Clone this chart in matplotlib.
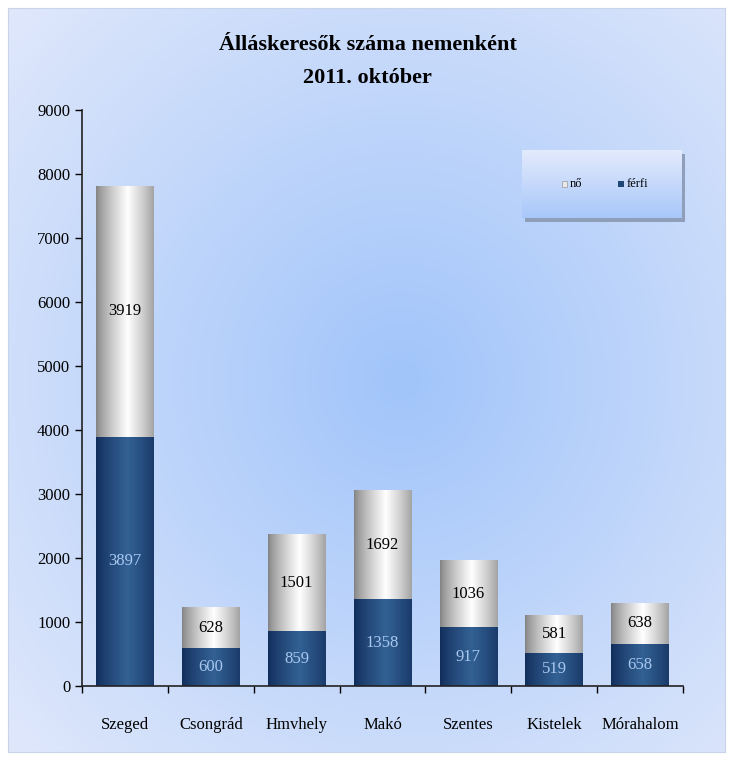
import numpy as np
import matplotlib.pyplot as plt
from matplotlib.patches import Rectangle

plt.rcParams['font.family'] = ['Liberation Serif', 'DejaVu Serif']

varosok = ['Szeged', 'Csongrád', 'Hmvhely', 'Makó', 'Szentes', 'Kistelek', 'Mórahalom']
ferfi = [3897, 600, 859, 1358, 917, 519, 658]
no = [3919, 628, 1501, 1692, 1036, 581, 638]

W, H = 735, 765
fig = plt.figure(figsize=(W / 100, H / 100), dpi=100)
fig.patch.set_facecolor('white')

# background panel with radial gradient
bg = fig.add_axes([8 / W, 1 - 752 / H, 717 / W, 744 / H])
yy, xx = np.mgrid[0:1:300j, 0:1:300j]
r = np.sqrt(((xx - 0.55) / 0.75) ** 2 + ((yy - 0.5) / 0.75) ** 2)
r = np.clip(r, 0, 1)
c_in = np.array([0.63, 0.77, 0.98])
c_out = np.array([0.88, 0.91, 0.985])
img = c_in[None, None, :] * (1 - r[..., None]) + c_out[None, None, :] * r[..., None]
bg.imshow(img, extent=(0, 1, 0, 1), aspect='auto', origin='lower')
bg.set_xticks([])
bg.set_yticks([])
for s in bg.spines.values():
    s.set_color('#c8d4ea')

ax = fig.add_axes([82 / W, 1 - 686 / H, 601 / W, 576 / H])
ax.set_facecolor('none')

x = np.arange(len(varosok))
bw = 0.67


def grad_bar(a, x0, x1, y0, y1, edge, mid):
    t = np.linspace(0, 1, 64)
    w = 1 - np.abs(t - 0.55) / 0.55
    w = np.clip(w, 0, 1) ** 0.8
    edge = np.array(edge)
    mid = np.array(mid)
    row = edge[None, :] * (1 - w[:, None]) + mid[None, :] * w[:, None]
    a.imshow(row[None, :, :], extent=(x0, x1, y0, y1), aspect='auto', zorder=2)


b1 = ax.bar(x, ferfi, bw, color='none', label='férfi')
b2 = ax.bar(x, no, bw, bottom=ferfi, color='none', label='nő')
for i in range(len(x)):
    x0, x1 = x[i] - bw / 2, x[i] + bw / 2
    grad_bar(ax, x0, x1, 0, ferfi[i], (0.07, 0.18, 0.36), (0.20, 0.38, 0.58))
    grad_bar(ax, x0, x1, ferfi[i], ferfi[i] + no[i], (0.52, 0.52, 0.52), (1.0, 1.0, 1.0))
    ax.text(x[i], ferfi[i] / 2, str(ferfi[i]), ha='center', va='center',
            fontsize=12, color='#a9c8f0', zorder=3)
    ax.text(x[i], ferfi[i] + no[i] / 2, str(no[i]), ha='center', va='center',
            fontsize=12, color='black', zorder=3)

ax.set_xlim(-0.5, len(x) - 0.5)
ax.set_ylim(0, 9000)
ax.set_yticks(range(0, 9001, 1000))
ax.set_xticks(x)
ax.set_xticklabels(varosok, fontsize=12)
ax.set_xticks(np.arange(-0.5, len(x), 1), minor=True)
ax.tick_params(axis='x', which='major', length=0, pad=22)
ax.tick_params(axis='x', which='minor', length=5, width=1, direction='out')
ax.tick_params(axis='y', labelsize=12, length=5, width=1, direction='out')
for s in ['top', 'right']:
    ax.spines[s].set_visible(False)
for s in ['left', 'bottom']:
    ax.spines[s].set_color('#222222')
    ax.spines[s].set_linewidth(1.2)

fig.text(0.5, 1 - 45 / H, 'Álláskeresők száma nemenként', ha='center', va='center',
         fontsize=16, fontweight='bold')
fig.text(0.5, 1 - 78 / H, '2011. október', ha='center', va='center',
         fontsize=16, fontweight='bold')

# legend box
sh = fig.add_axes([525 / W, 1 - 222 / H, 160 / W, 68 / H])
sh.set_facecolor('#8f9fba')
sh.set_xticks([])
sh.set_yticks([])
for s in sh.spines.values():
    s.set_visible(False)
lg = fig.add_axes([522 / W, 1 - 218 / H, 160 / W, 68 / H])
gy = np.linspace(0, 1, 100)
top = np.array([0.89, 0.92, 0.99])
bot = np.array([0.66, 0.78, 0.98])
gimg = top[None, :] * gy[:, None] + bot[None, :] * (1 - gy[:, None])
lg.imshow(gimg[:, None, :], extent=(0, 1, 0, 1), aspect='auto', origin='lower')
lg.set_xlim(0, 1)
lg.set_ylim(0, 1)
lg.set_xticks([])
lg.set_yticks([])
for s in lg.spines.values():
    s.set_visible(False)
lg.add_patch(Rectangle((0.25, 0.45), 0.03, 0.1, facecolor='#e8e8e8', edgecolor='#999999', lw=0.5))
lg.text(0.30, 0.5, 'nő', va='center', fontsize=9)
lg.add_patch(Rectangle((0.60, 0.45), 0.035, 0.1, facecolor='#1f4675', edgecolor='none'))
lg.text(0.655, 0.5, 'férfi', va='center', fontsize=9)

plt.savefig('out.png', dpi=100)
